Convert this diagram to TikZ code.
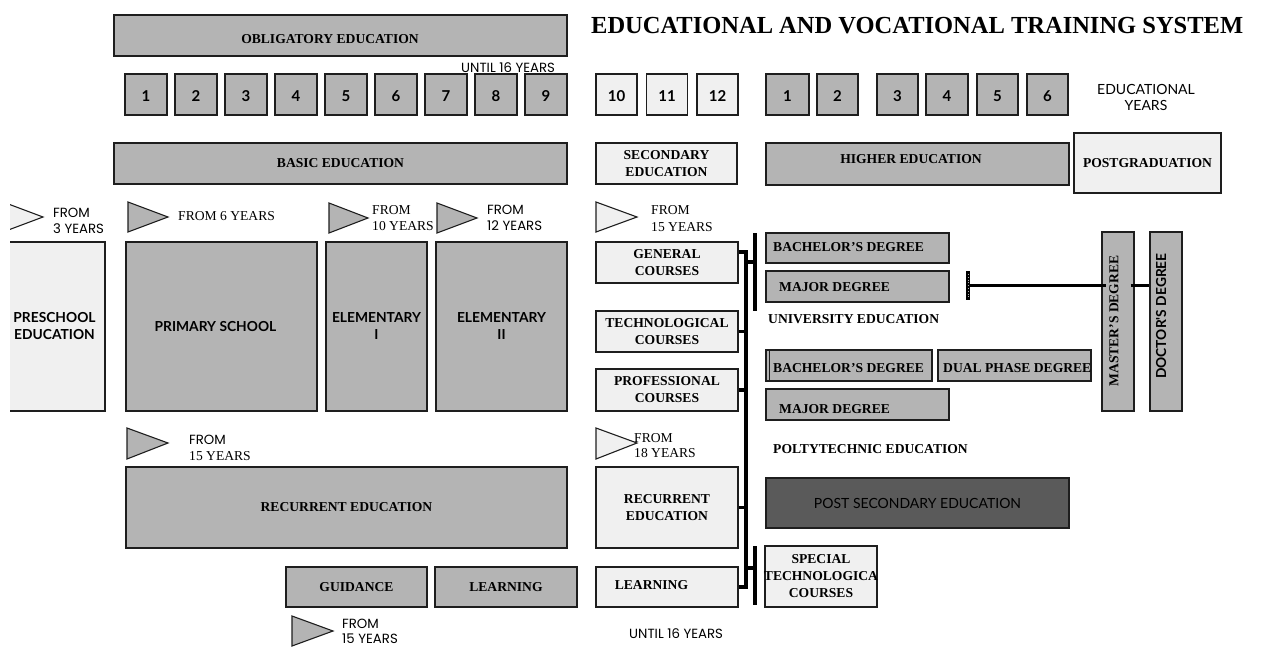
\documentclass[tikz,border=0pt]{standalone}
\usepackage{fontspec}
\setmainfont{Liberation Serif}
\newfontfamily\geofont{Poppins}
\newfontfamily\handfont{Lato}
\definecolor{gfill}{RGB}{180,180,180}
\definecolor{lfill}{RGB}{240,240,240}
\definecolor{dfill}{RGB}{90,90,90}
\definecolor{bordcol}{RGB}{30,30,30}

% box from (x1,y1) to (x2,y2) with its text centred inside
\newcommand\mkbox[8]{%
  \pgfmathsetmacro\mkbw{#4-#2}%
  \pgfmathsetmacro\mkbh{#5-#3}%
  \pgfmathsetmacro\mkbx{(#2+#4)/2}%
  \pgfmathsetmacro\mkby{(#3+#5)/2}%
  \node[#6, minimum width=\mkbw pt, minimum height=\mkbh pt] (#1) at (\mkbx,\mkby) {};
  \node[tx, align=center, #7] (#1-t) at (#1.center) {#8};}

\begin{document}
\begin{tikzpicture}[x=1pt,y=-1pt,
  bord/.style={draw=bordcol, line width=1.4pt},
  gbox/.style={bord, fill=gfill, inner sep=0pt},
  lbox/.style={gbox, fill=lfill},
  dbox/.style={gbox, fill=dfill},
  tx/.style={inner sep=0pt},
  tb/.style={font=\fontsize{13.6}{17}\selectfont\bfseries},
  tr/.style={font=\fontsize{13.6}{16}\selectfont},
  geo/.style={font=\geofont\fontsize{13.3}{16}\selectfont},
  hand/.style={font=\handfont\fontsize{14}{17}\selectfont},
  handb/.style={font=\handfont\bfseries\fontsize{13.8}{17}\selectfont},
  digit/.style={font=\handfont\bfseries\fontsize{15}{17}\selectfont, yshift=-2pt},
  pointer/.style={draw=bordcol, line width=1.1pt, line join=miter},
  bus/.style={draw=black, line width=3.8pt, line join=miter},
  bar/.style={draw=black, line width=4.6pt},
  link/.style={draw=black, line width=3pt}]
\useasboundingbox (0,0) rectangle (1261,648);

% ---------- title ----------
\node[tx, font=\fontsize{24.5}{28}\selectfont\bfseries, anchor=base west] (title) at (591,33)
  {EDUCATIONAL AND VOCATIONAL TRAINING SYSTEM};

% ---------- top band ----------
\mkbox{obl}{114}{15}{567}{56}{gbox}{tb}{}
\node[tx, tb, anchor=base] (obl-l) at (330,43) {OBLIGATORY EDUCATION};
\node[tx, geo, anchor=base west] (until-a) at (461,72) {UNTIL 16 YEARS};

\foreach \i in {1,...,9} {
  \pgfmathsetmacro\xa{125+50*(\i-1)}
  \pgfmathsetmacro\xb{\xa+42}
  \mkbox{o\i}{\xa}{74}{\xb}{115}{gbox}{digit}{\i}
}
\foreach \i/\k in {10/0,11/1,12/2} {
  \pgfmathsetmacro\xa{596+50.5*\k}
  \pgfmathsetmacro\xb{\xa+41}
  \mkbox{s\i}{\xa}{74}{\xb}{115}{lbox}{digit}{\i}
}
\foreach \i/\xa/\xb in {1/766/809,2/817/858,3/877/918,4/926/968,5/977/1018,6/1027/1068} {
  \mkbox{h\i}{\xa}{74}{\xb}{115}{gbox}{digit}{\i}
}
\node[tx, hand, anchor=base] (ey1) at (1146,94) {EDUCATIONAL};
\node[tx, hand, anchor=base] (ey2) at (1146,110) {YEARS};

% ---------- level band ----------
\mkbox{basic}{114}{143}{567}{184}{gbox}{tb}{BASIC EDUCATION}
\mkbox{sec}{596}{143}{737}{184}{lbox}{tb}{SECONDARY\\EDUCATION}
\mkbox{high}{766}{143}{1069}{185}{gbox}{tb}{}
\node[tx, tb, anchor=base] (high-l) at (911,163) {HIGHER EDUCATION};
\mkbox{postg}{1074}{133}{1221}{193}{lbox}{tb}{POSTGRADUATION}

% ---------- entry pointers ----------
\begin{scope}
  \clip (10,0) rectangle (1261,648);
  \draw[pointer, fill=lfill] (3,202) -- (43,217) -- (3,232) -- cycle;
  \mkbox{pre}{4}{242}{105}{411}{lbox}{handb}{PRESCHOOL\\EDUCATION}
\end{scope}
\node[tx, geo, anchor=base west] (f3a) at (53,217) {FROM};
\node[tx, geo, anchor=base west] (f3b) at (53,233) {3 YEARS};

\draw[pointer, fill=gfill] (128,202) -- (168,217) -- (128,232) -- cycle;
\node[tx, tr, anchor=base west] (f6) at (178,220) {FROM 6 YEARS};

\draw[pointer, fill=gfill] (329,203) -- (368,218) -- (329,233) -- cycle;
\node[tx, tr, anchor=base west] (f10a) at (372,214) {FROM};
\node[tx, tr, anchor=base west] (f10b) at (372,230) {10 YEARS};

\draw[pointer, fill=gfill] (437,203) -- (477,218) -- (437,233) -- cycle;
\node[tx, geo, anchor=base west] (f12a) at (487,214) {FROM};
\node[tx, geo, anchor=base west] (f12b) at (487,230) {12 YEARS};

\draw[pointer, fill=lfill] (596,202) -- (637,217) -- (596,232) -- cycle;
\node[tx, tr, anchor=base west] (f15a) at (651,214) {FROM};
\node[tx, tr, anchor=base west] (f15b) at (651,231) {15 YEARS};

% ---------- basic education ----------
\mkbox{prim}{126}{242}{317}{411}{gbox}{handb}{}
\node[tx, handb, anchor=base] (prim-l) at (215.5,331) {PRIMARY SCHOOL};
\mkbox{el1}{326}{242}{427}{411}{gbox}{handb}{ELEMENTARY\\I}
\mkbox{el2}{436}{242}{567}{411}{gbox}{handb}{ELEMENTARY\\II}

\draw[pointer, fill=gfill] (127,428) -- (168,443) -- (127,459) -- cycle;
\node[tx, geo, anchor=base west] (fr1a) at (189,444) {FROM};
\node[tx, tr, anchor=base west] (fr1b) at (189,460) {15 YEARS};
\mkbox{rec1}{126}{467}{567}{548}{gbox}{tb}{RECURRENT EDUCATION}
\mkbox{guid}{286}{567}{427}{607}{gbox}{tb}{GUIDANCE}
\mkbox{lrn1}{435}{567}{577}{607}{gbox}{tb}{LEARNING}
\draw[pointer, fill=gfill] (292,616) -- (333,631) -- (292,646) -- cycle;
\node[tx, geo, anchor=base west] (fr3a) at (342,628) {FROM};
\node[tx, geo, anchor=base west] (fr3b) at (342,643) {15 YEARS};

% ---------- secondary education ----------
\mkbox{gen}{596}{242}{738}{283}{lbox}{tb}{GENERAL\\COURSES}
\mkbox{tech}{596}{311}{738}{352}{lbox}{tb}{TECHNOLOGICAL\\COURSES}
\mkbox{prof}{596}{369}{738}{411}{lbox}{tb}{PROFESSIONAL\\COURSES}
\draw[pointer, fill=lfill] (596,428) -- (637,443) -- (596,459) -- cycle;
\node[tx, tr, anchor=base west] (f18a) at (634,442) {FROM};
\node[tx, tr, anchor=base west] (f18b) at (634,457) {18 YEARS};
\mkbox{rec2}{596}{467}{738}{548}{lbox}{tb}{RECURRENT\\EDUCATION}
\mkbox{lrn2}{596}{567}{738}{607}{lbox}{tb}{}
\node[tx, tb, anchor=base] (lrn2-l) at (651.5,589) {LEARNING};
\node[tx, geo, anchor=base west] (until-b) at (629,638) {UNTIL 16 YEARS};

% ---------- higher education ----------
\mkbox{bu}{766}{233}{949}{263}{gbox}{tb}{}
\node[tx, tb, anchor=base west] (bu-l) at (773,251) {BACHELOR'S DEGREE};
\mkbox{mu}{766}{271}{949}{302}{gbox}{tb}{}
\node[tx, tb, anchor=base west] (mu-l) at (779,291) {MAJOR DEGREE};
\node[tx, tb, anchor=base west] (univ) at (768,323) {UNIVERSITY EDUCATION};

\mkbox{bp}{766}{350}{932}{381}{gbox}{tb}{}
\draw[bord] (769.5,350) -- (769.5,381);
\node[tx, tb, anchor=base west] (bp-l) at (773,372) {BACHELOR'S DEGREE};
\mkbox{dp}{938}{350}{1091}{381}{gbox}{tb}{}
\node[tx, tb, anchor=base west] (dp-l) at (943,372) {DUAL PHASE DEGREE};
\mkbox{mp}{766}{389}{949}{420}{gbox}{tb}{}
\node[tx, tb, anchor=base west] (mp-l) at (779,413) {MAJOR DEGREE};
\node[tx, tb, anchor=base west] (poly) at (773,453) {POLTYTECHNIC EDUCATION};

\mkbox{post}{766}{478}{1069}{528}{dbox}{hand}{POST SECONDARY EDUCATION}
\mkbox{spec}{765}{546}{877}{607}{lbox}{tb}{SPECIAL\\TECHNOLOGICA\\COURSES}

\mkbox{mast}{1102}{232}{1134}{411}{gbox}{tb}{}
\node[tx, tb, rotate=90] (mast-l) at (1114,321) {MASTER'S DEGREE};
\mkbox{doc}{1150}{232}{1182}{411}{gbox}{tb}{}
\node[tx, handb, rotate=90] (doc-l) at (1161,316) {DOCTOR'S DEGREE};

% ---------- connectors ----------
\coordinate (busTop) at (746,252);
\coordinate (busBot) at (746,587);
\coordinate (upJoin) at (755,262);
\coordinate (upTop) at (755,233);
\coordinate (upBot) at (755,311);
\coordinate (loJoin) at (755,568);
\coordinate (loTop) at (755,546);
\coordinate (loBot) at (755,605);

\draw[bus] (gen.east |- busTop) -- (busTop) -- (busBot) -- (lrn2.east |- busBot);
\draw[bus] (tech.east) -- (tech.east -| busTop);
\draw[bus] (prof.east) -- (prof.east -| busTop);
\draw[bus] (rec2.east) -- (rec2.east -| busTop);
\draw[bus] (upJoin -| busTop) -- (upJoin);
\draw[bus] (loJoin -| busTop) -- (loJoin);
\draw[bar] (upTop) -- (upBot);
\draw[bar] (loTop) -- (loBot);

\coordinate (mjTop) at (968,271);
\coordinate (mjBot) at (968,300);
\coordinate (mjMid) at (968,285);
\draw[link, shorten >=-5pt] (mjMid) -- (mjMid -| mast.west);
\draw[link, shorten <=-4pt] (mjMid -| mast.east) -- (mjMid -| doc.west);
\draw[line width=4pt] (mjTop) -- (mjBot);
\draw[white!70!black, line width=0.8pt, dash pattern=on 0.8pt off 2pt] ([yshift=-3pt]mjTop) -- ([yshift=3pt]mjBot);
\end{tikzpicture}
\end{document}
